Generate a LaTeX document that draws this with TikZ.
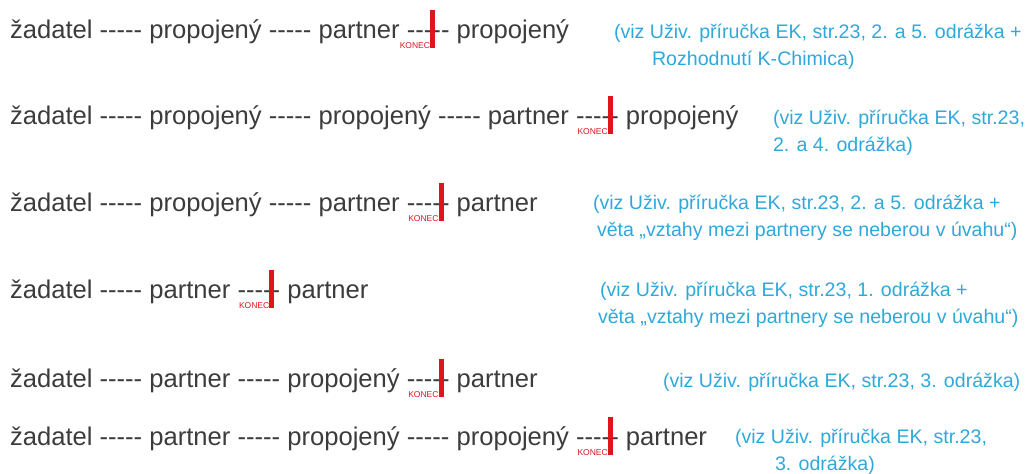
\documentclass[tikz,border=0pt]{standalone}
\usepackage{fontspec}
\setmainfont{Liberation Sans}
\definecolor{maintext}{HTML}{3C3C3C}
\definecolor{note}{HTML}{2FA8DA}
\definecolor{endred}{HTML}{E0141B}
\newcommand{\dsh}{-{}}
\tikzset{
  chain/.style={anchor=base west, inner sep=0pt, outer sep=0pt, text=maintext, font=\fontsize{25.6}{30}\selectfont},
  notetext/.style={anchor=base west, inner sep=0pt, outer sep=0pt, text=note, font=\fontsize{19.6}{24}\selectfont},
  endbar/.style={fill=endred, inner sep=0pt, outer sep=0pt, minimum width=5pt, minimum height=38pt, anchor=south},
  konec/.style={anchor=base east, inner sep=0pt, outer sep=0pt, text=endred, font=\fontsize{8.5}{9}\selectfont}
}
\begin{document}
\begin{tikzpicture}[x=1pt,y=-1pt]
\useasboundingbox (0,0) rectangle (1026,474);
% row 1
\node[chain] (a1) at (10,38) {žadatel \dsh\dsh\dsh\dsh- propojený \dsh\dsh\dsh\dsh- partner \dsh\dsh-};
\node[chain] (b1) at (a1.base east) {\dsh- propojený};
\node[endbar] (r1) at ([yshift=-10pt]a1.base east) {};
\node[konec] (k1) at (r1.south west) {KONEC};
\node[notetext] (n1a) at (614,38) {(viz Uživ. příručka EK, str.23, 2. a 5. odrážka +};
\node[notetext] (n1b) at (652,65) {Rozhodnutí K-Chimica)};
% row 2
\node[chain] (a2) at (10,124) {žadatel \dsh\dsh\dsh\dsh- propojený \dsh\dsh\dsh\dsh- propojený \dsh\dsh\dsh\dsh- partner \dsh\dsh\dsh-};
\node[chain] (b2) at (a2.base east) {- propojený};
\node[endbar] (r2) at ([yshift=-10pt]a2.base east) {};
\node[konec] (k2) at (r2.south west) {KONEC};
\node[notetext] (n2a) at (773,124) {(viz Uživ. příručka EK, str.23,};
\node[notetext] (n2b) at (773,151) {2. a 4. odrážka)};
% row 3
\node[chain] (a3) at (10,211) {žadatel \dsh\dsh\dsh\dsh- propojený \dsh\dsh\dsh\dsh- partner \dsh\dsh\dsh-};
\node[chain] (b3) at (a3.base east) {- partner};
\node[endbar] (r3) at ([yshift=-10pt]a3.base east) {};
\node[konec] (k3) at (r3.south west) {KONEC};
\node[notetext] (n3a) at (593,209) {(viz Uživ. příručka EK, str.23, 2. a 5. odrážka +};
\node[notetext] (n3b) at (597,236) {věta „vztahy mezi partnery se neberou v úvahu“)};
% row 4
\node[chain] (a4) at (10,298) {žadatel \dsh\dsh\dsh\dsh- partner \dsh\dsh\dsh-};
\node[chain] (b4) at (a4.base east) {- partner};
\node[endbar] (r4) at ([yshift=-10pt]a4.base east) {};
\node[konec] (k4) at (r4.south west) {KONEC};
\node[notetext] (n4a) at (600,296) {(viz Uživ. příručka EK, str.23, 1. odrážka +};
\node[notetext] (n4b) at (598,323) {věta „vztahy mezi partnery se neberou v úvahu“)};
% row 5
\node[chain] (a5) at (10,387) {žadatel \dsh\dsh\dsh\dsh- partner \dsh\dsh\dsh\dsh- propojený \dsh\dsh\dsh-};
\node[chain] (b5) at (a5.base east) {- partner};
\node[endbar] (r5) at ([yshift=-10pt]a5.base east) {};
\node[konec] (k5) at (r5.south west) {KONEC};
\node[notetext] (n5a) at (663,387) {(viz Uživ. příručka EK, str.23, 3. odrážka)};
% row 6
\node[chain] (a6) at (10,445) {žadatel \dsh\dsh\dsh\dsh- partner \dsh\dsh\dsh\dsh- propojený \dsh\dsh\dsh\dsh- propojený \dsh\dsh\dsh-};
\node[chain] (b6) at (a6.base east) {- partner};
\node[endbar] (r6) at ([yshift=-10pt]a6.base east) {};
\node[konec] (k6) at (r6.south west) {KONEC};
\node[notetext] (n6a) at (735,443) {(viz Uživ. příručka EK, str.23,};
\node[notetext] (n6b) at (775,470) {3. odrážka)};
\end{tikzpicture}
\end{document}
